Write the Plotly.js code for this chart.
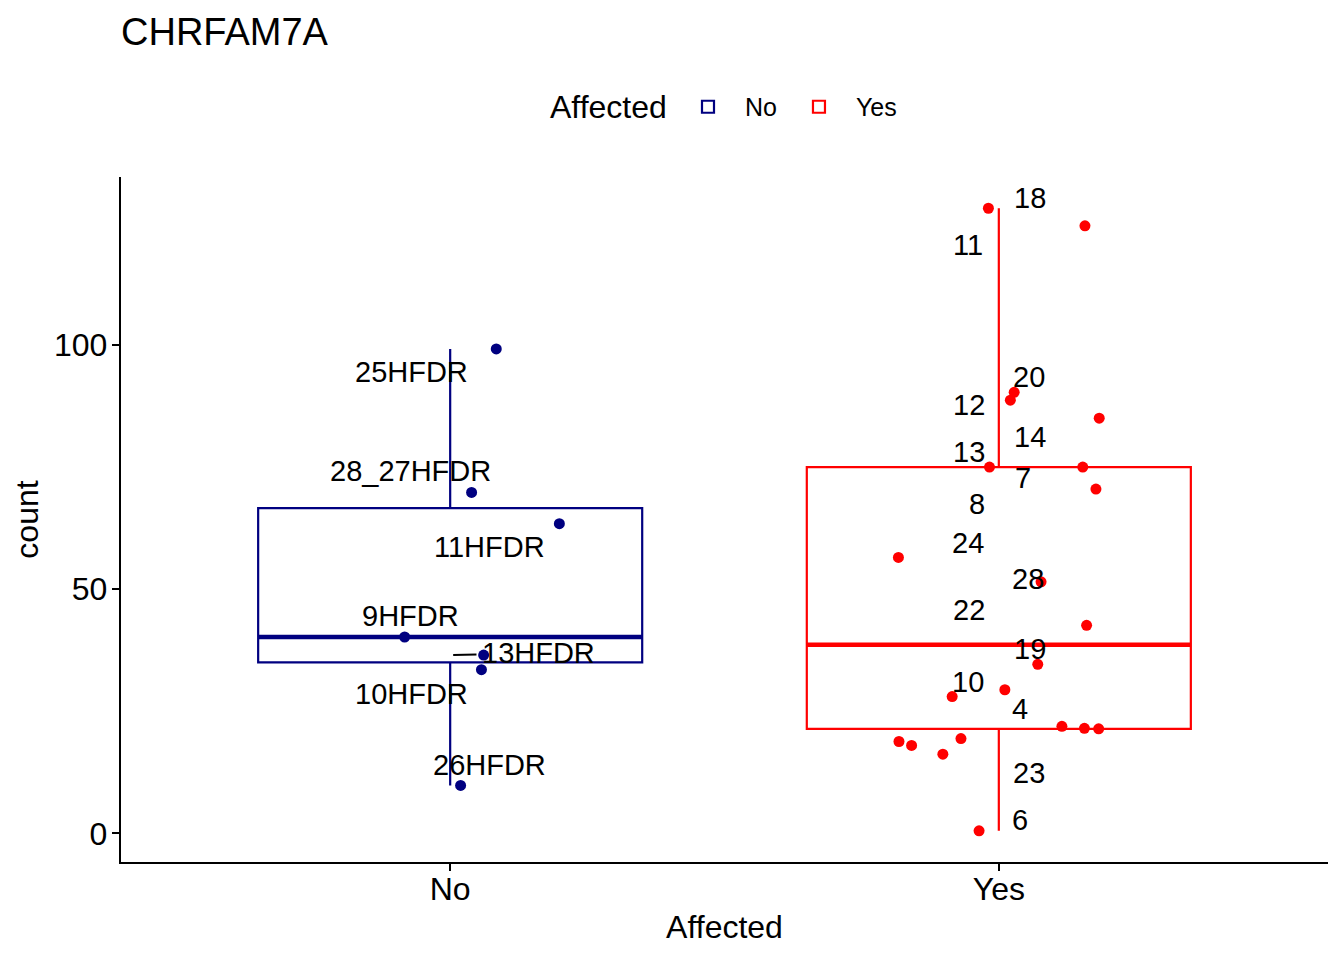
<!DOCTYPE html>
<html><head><meta charset="utf-8">
<script src="https://cdn.plot.ly/plotly-3.0.1.min.js"></script>
<style>html,body{margin:0;padding:0;background:#fff}#chart{width:1344px;height:960px}</style>
</head><body><div id="chart"></div>
<script>
// ---- data ----
const categories = ['No', 'Yes'];
const countNo  = [99.2, 69.8, 63.4, 40.2, 36.5, 33.5, 9.8];
const jitterNo = [0.084, 0.039, 0.199, -0.083, 0.061, 0.057, 0.019];
const labelsNo = ['25HFDR', '28_27HFDR', '11HFDR', '9HFDR', '13HFDR', '10HFDR', '26HFDR'];

const countYes  = [128.0, 124.4, 90.3, 88.7, 85.0, 75.0, 75.0, 70.5, 56.5, 51.5, 42.6,
                   34.6, 29.4, 28.0, 21.9, 21.5, 21.4, 18.8, 18.0, 19.4, 16.2, 0.5];
const jitterYes = [-0.019, 0.157, 0.028, 0.021, 0.183, -0.017, 0.153, 0.177, -0.183, 0.077, 0.160,
                   0.071, 0.011, -0.085, 0.115, 0.156, 0.182, -0.182, -0.159, -0.069, -0.102, -0.036];
const labelsYes = ['18', '11', '20', '12', '14', '13', '7', '8', '24', '28', '22',
                   '19', '10', '4', '', '', '', '', '', '', '23', '6'];

// ---- label placement (pixel offsets from the category centre at each value) ----
const labelShiftNo = [[-39, 23.5], [-39.7, -21], [39.8, 23], [-39.7, -21], [88.3, -2], [-38.9, 23.8], [39.5, -20.7]];
const labelShiftYes = [[30.8, -10.3], [-30.7, 19], [29.8, -15.3], [-29.7, 4.7], [30.8, 18.4], [-29.7, -15.3],
                       [23.8, 10.7], [-22, 14.7], [-30.7, -14], [29.3, -2.7], [-30, -15.3], [30.8, -15.7],
                       [-30.7, -8], [20.8, 12.8], null, null, null, null, null, null, [29.8, 18.7], [21.3, -11]];
const arrowLabels = ['13HFDR'];

const colNo = '#000080', colYes = '#FF0000';
const FONT = 'Liberation Sans, Arial, Helvetica, sans-serif';

const groups = [
  {name: categories[0], pos: 1, y: countNo, jit: jitterNo, lab: labelsNo, sh: labelShiftNo, col: colNo},
  {name: categories[1], pos: 2, y: countYes, jit: jitterYes, lab: labelsYes, sh: labelShiftYes, col: colYes}
];

function median(a) {
  const s = a.slice().sort((p, q) => p - q), n = s.length;
  return n % 2 ? s[(n - 1) / 2] : (s[n / 2 - 1] + s[n / 2]) / 2;
}

const traces = [], shapes = [], annotations = [];
groups.forEach(g => {
  traces.push({
    type: 'box', name: g.name, y: g.y, x0: g.pos, width: 0.7,
    boxpoints: false, quartilemethod: 'inclusive', whiskerwidth: 0,
    line: {color: g.col, width: 2.2}, fillcolor: 'rgba(255,255,255,0)',
    legendgroup: g.name, hoverinfo: 'skip'
  });
  const m = median(g.y);
  shapes.push({type: 'line', xref: 'x', yref: 'y', x0: g.pos - 0.35, x1: g.pos + 0.35, y0: m, y1: m,
               line: {color: g.col, width: 4.6}, layer: 'above'});
});
groups.forEach(g => {
  traces.push({
    type: 'scatter', mode: 'markers', name: g.name, showlegend: false, legendgroup: g.name,
    x: g.y.map((v, i) => g.pos + g.jit[i]), y: g.y,
    marker: {color: g.col, size: 11, line: {width: 0}}, hoverinfo: 'skip'
  });
  g.lab.forEach((t, i) => {
    if (!t) return;
    const [dx, dy] = g.sh[i];
    if (arrowLabels.includes(t)) {
      annotations.push({x: g.pos, y: g.y[i], xref: 'x', yref: 'y', text: t, showarrow: true,
        ax: dx, ay: dy, axref: 'pixel', ayref: 'pixel', arrowhead: 0, arrowwidth: 2, arrowcolor: '#000',
        standoff: 3, borderpad: 5, font: {family: FONT, size: 29, color: '#000'}});
    } else {
      annotations.push({x: g.pos, y: g.y[i], xref: 'x', yref: 'y', text: t, showarrow: false,
        xshift: dx, yshift: -dy, xanchor: 'center', yanchor: 'middle',
        font: {family: FONT, size: 29, color: '#000'}});
    }
  });
});

// legend title as a text annotation beside the legend keys
annotations.push({xref: 'paper', yref: 'paper', x: (669 - 121) / 1207, y: 1.1022, xanchor: 'right', yanchor: 'middle',
  text: 'Affected', showarrow: false, font: {family: FONT, size: 32, color: '#000'}});

const axisCommon = {
  showline: true, linecolor: '#000', linewidth: 2.2, ticks: 'outside', ticklen: 7, tickwidth: 2.2,
  tickcolor: '#000', showgrid: false, zeroline: false, automargin: false,
  tickfont: {family: FONT, size: 32, color: '#000'}
};

const layout = {
  width: 1344, height: 960,
  margin: {l: 121, r: 16, t: 177, b: 98},
  paper_bgcolor: '#fff', plot_bgcolor: '#fff',
  font: {family: FONT, color: '#000'},
  title: {text: 'CHRFAM7A', x: 0, xref: 'paper', xanchor: 'left', y: 1 - 32 / 960, yref: 'container',
          yanchor: 'middle', font: {family: FONT, size: 38, color: '#000'}},
  xaxis: Object.assign({}, axisCommon, {type: 'linear', range: [0.4, 2.6], tickvals: [1, 2], ticktext: categories,
          ticklabelstandoff: -10,
          title: {text: 'Affected', font: {family: FONT, size: 32, color: '#000'}, standoff: 10}}),
  yaxis: Object.assign({}, axisCommon, {type: 'linear', range: [-5.875, 134.4], tickvals: [0, 50, 100],
          ticklabelstandoff: -2,
          title: {text: 'count', font: {family: FONT, size: 32, color: '#000'}, standoff: 6}}),
  showlegend: true,
  legend: {orientation: 'h', x: (671 - 121) / 1207, xanchor: 'left', y: 1.1022, yanchor: 'middle',
           font: {family: FONT, size: 25, color: '#000'}, itemwidth: 64},
  shapes: shapes, annotations: annotations
};

Plotly.newPlot('chart', traces, layout, {displayModeBar: false, staticPlot: true});
</script></body></html>
